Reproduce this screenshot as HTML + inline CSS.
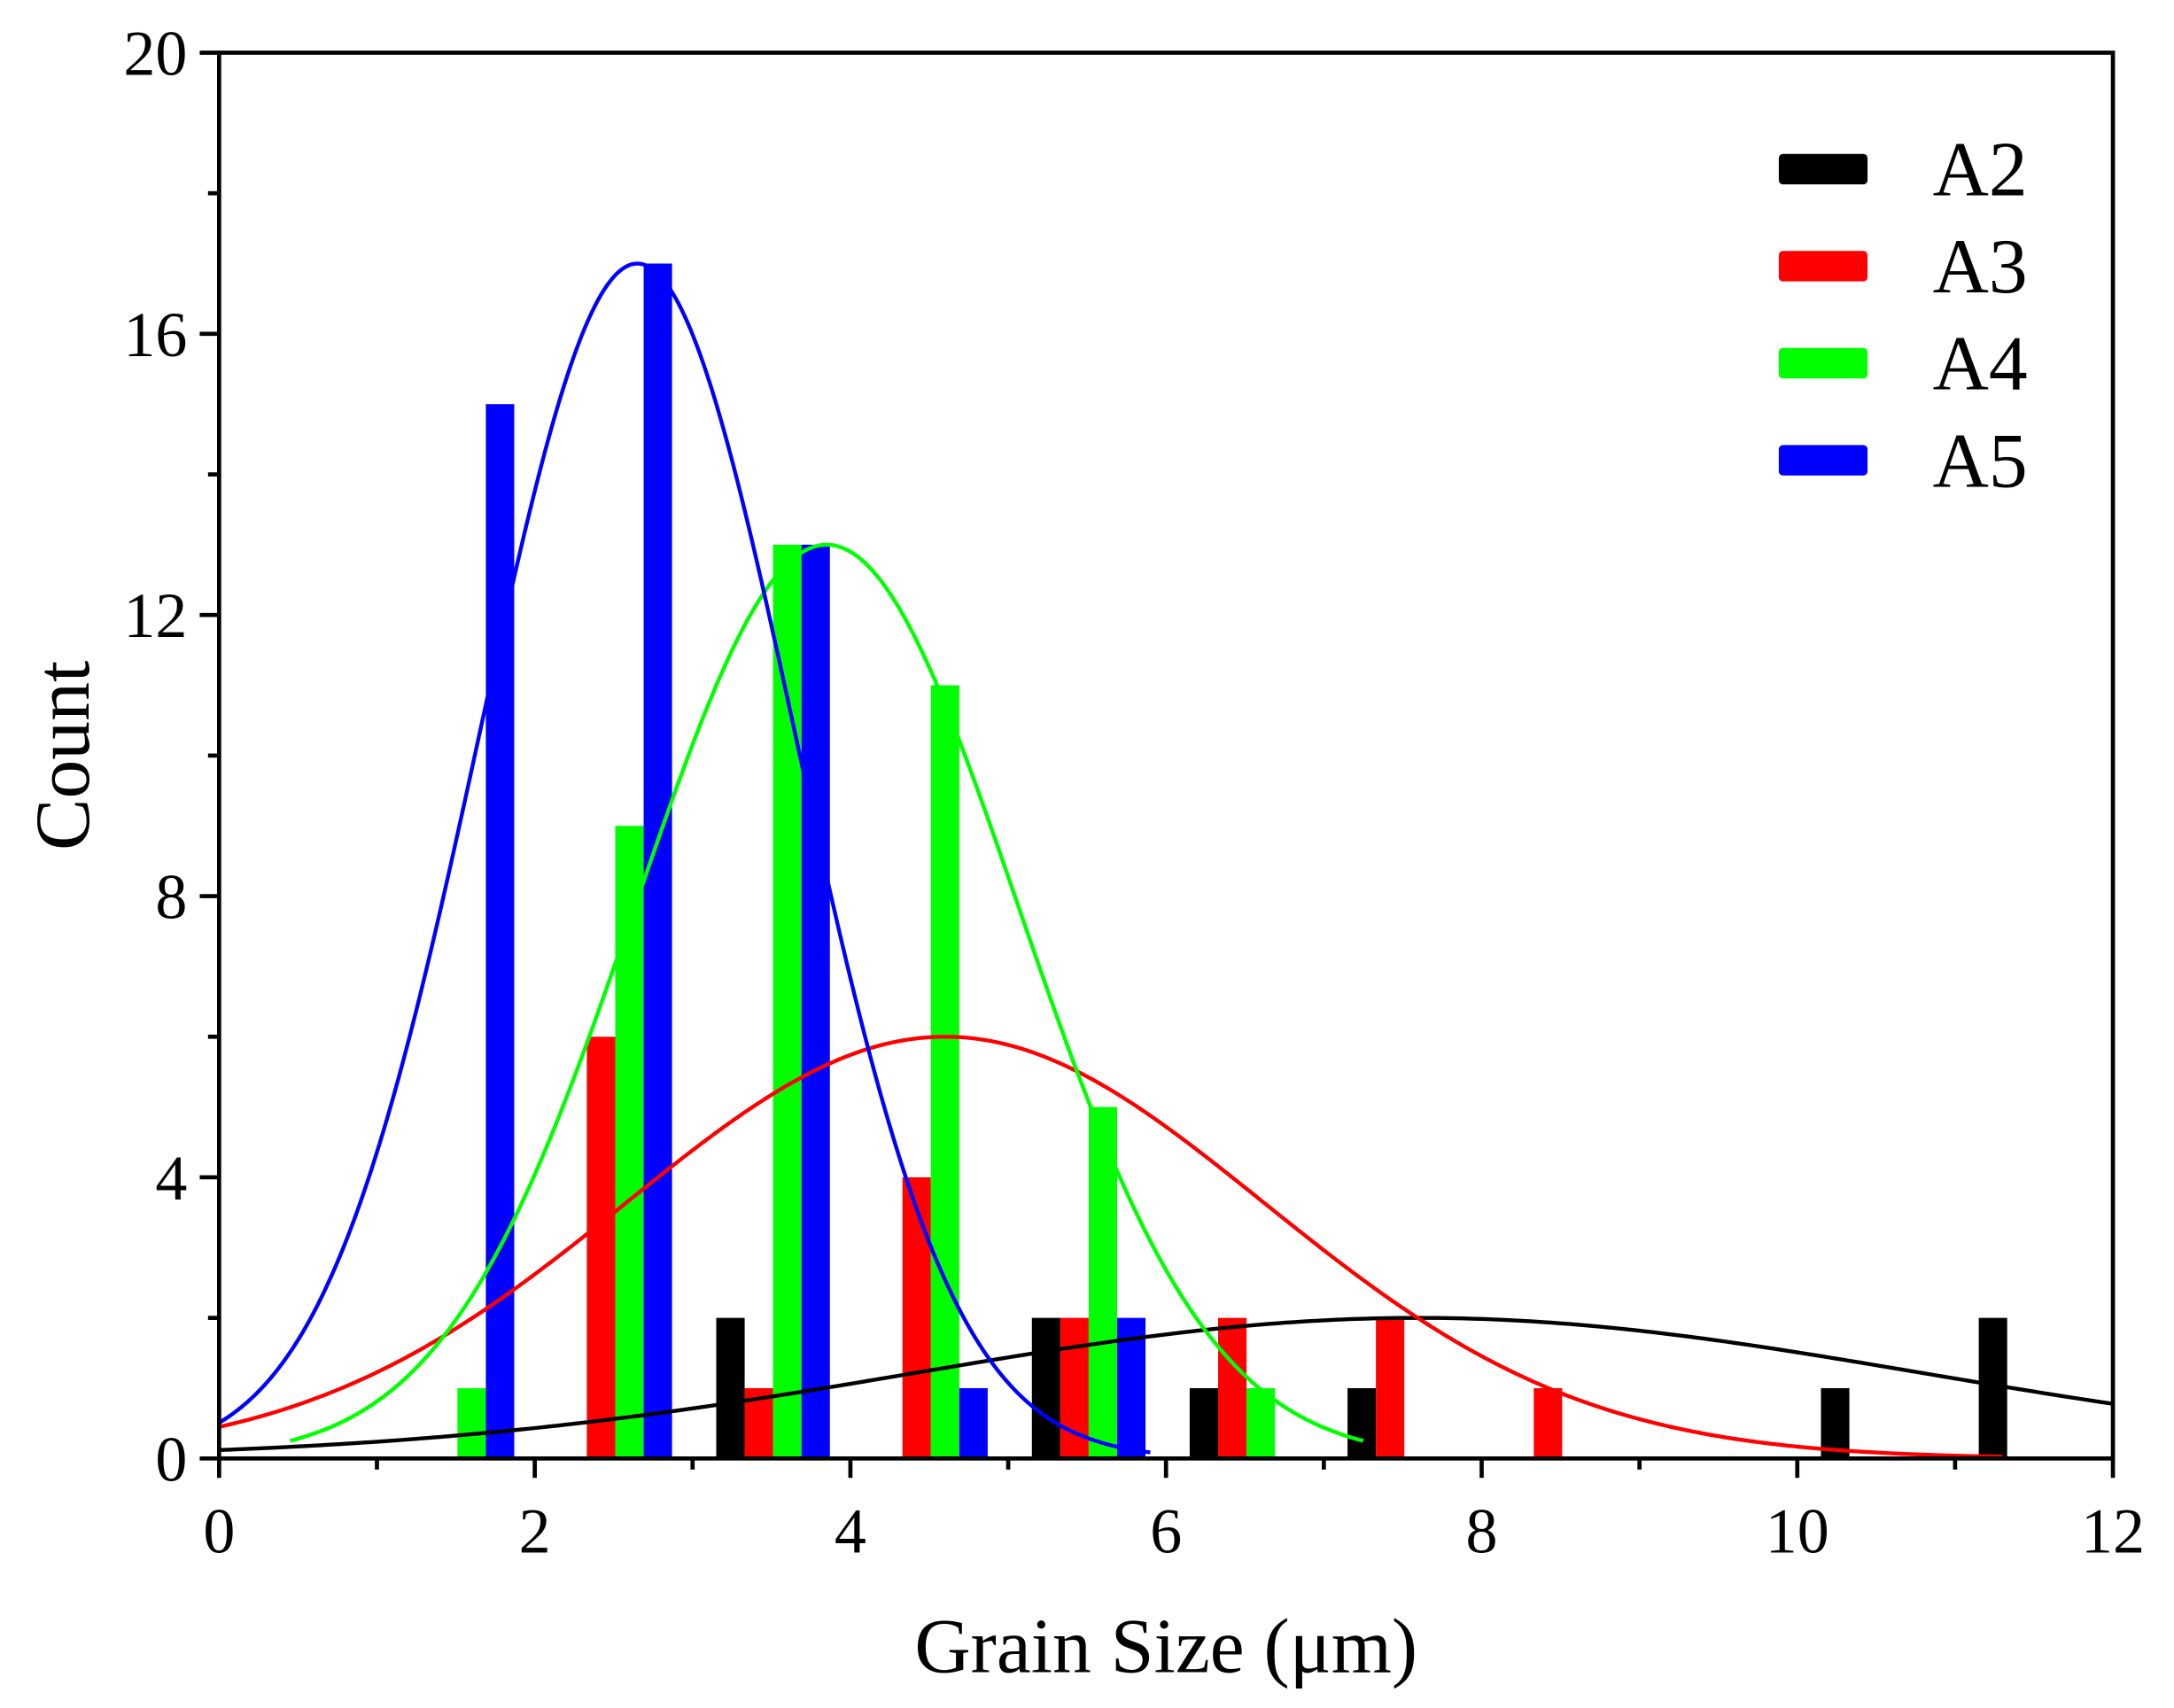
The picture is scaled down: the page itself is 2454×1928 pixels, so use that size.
<!DOCTYPE html>
<html><head><meta charset="utf-8"><style>
html,body{margin:0;padding:0;background:#fff;}
svg{display:block;}
text{font-family:"Liberation Serif",serif;fill:#000;}
</style></head><body>
<svg id="chart" width="2454" height="1928" viewBox="0 0 1568 1232" xmlns="http://www.w3.org/2000/svg">
<g id="bars"></g>
<g id="curves"></g>
<g id="axes"></g>
<g id="legend"></g>
<text x="841" y="1206" font-size="56" text-anchor="middle">Grain Size (μm)</text>
<text transform="translate(64,545) rotate(-90)" font-size="56" text-anchor="middle">Count</text>
</svg>
<script>
const series = ["A2","A3","A4","A5"];
const colors = ["#000000","#ff0000","#00ff00","#0000ff"];
const binCenters = [1,2,3,4,5,6,7,8,9,10,11];
const countsA2 = [0,0,2,0,2,1,1,0,0,1,2];
const countsA3 = [0,6,1,4,2,2,2,1,0,0,0];
const countsA4 = [1,9,13,11,5,1,0,0,0,0,0];
const countsA5 = [15,17,13,1,2,0,0,0,0,0,0];
const fitPeak = [2,6,13,17];
const fitMean = [7.6,4.6,3.85,2.65];
const fitSigma = [3.2,2.02,1.21,1.0];
const fitStart = [0,0,0.45,0];
const fitEnd = [12,11.3,7.25,5.9];
const xTicks = [0,2,4,6,8,10,12];
const yTicks = [0,4,8,12,16,20];

const NS="http://www.w3.org/2000/svg";
const X0=158,X1=1524,Y0=1052,Y1=38,XMAX=12,YMAX=20;
function xs(v){return X0+(X1-X0)*v/XMAX;}
function ys(v){return Y0-(Y0-Y1)*v/YMAX;}
function mk(tag,attrs,parent){const e=document.createElementNS(NS,tag);for(const k in attrs)e.setAttribute(k,attrs[k]);parent.appendChild(e);return e;}
const allCounts=[countsA2,countsA3,countsA4,countsA5];
const bw=0.18;
const barsG=document.getElementById('bars');
allCounts.forEach((arr,si)=>{
  arr.forEach((c,i)=>{
    if(!c) return;
    const left=binCenters[i]+0.15+si*bw;
    const r=mk('rect',{x:xs(left),y:ys(c),width:xs(left+bw)-xs(left),height:ys(0)-ys(c),fill:colors[si]},barsG);
    
    
  });
});
const curvesG=document.getElementById('curves');
series.forEach((s,si)=>{
  let d='';
  for(let k=0;k<=300;k++){
    const x=fitStart[si]+(fitEnd[si]-fitStart[si])*k/300;
    const y=fitPeak[si]*Math.exp(-Math.pow(x-fitMean[si],2)/(2*fitSigma[si]*fitSigma[si]));
    d+=(k?'L':'M')+xs(x).toFixed(2)+','+ys(y).toFixed(2);
  }
  const p=mk('path',{d:d,fill:'none',stroke:colors[si],'stroke-width':2.8},curvesG);
  
  
});
const ax=document.getElementById('axes');
const frame=mk('rect',{x:X0,y:Y1,width:X1-X0,height:Y0-Y1,fill:'none',stroke:'#000','stroke-width':3},ax);


for(let v=0;v<=XMAX;v++){
  const major=v%2===0;
  mk('line',{x1:xs(v),x2:xs(v),y1:Y0,y2:Y0+(major?14:8),stroke:'#000','stroke-width':3},ax);
}
xTicks.forEach(v=>{
  const t=mk('text',{x:xs(v),y:1120,'font-size':46,'text-anchor':'middle'},ax);
  t.textContent=v;
  
  
});
for(let v=0;v<=YMAX;v+=2){
  const major=v%4===0;
  mk('line',{x1:X0,x2:X0-(major?14:8),y1:ys(v),y2:ys(v),stroke:'#000','stroke-width':3},ax);
}
yTicks.forEach(v=>{
  const t=mk('text',{x:135,y:ys(v)+16,'font-size':46,'text-anchor':'end'},ax);
  t.textContent=v;
  
  
});
const lg=document.getElementById('legend');
series.forEach((s,si)=>{
  const cy=122+si*70;
  const g=mk('g',{},lg);
  
  
  mk('rect',{x:1283,y:cy-11,width:64,height:22,rx:3,fill:colors[si]},g);
  const t=mk('text',{x:1394,y:cy+19,'font-size':56},g);
  t.textContent=s;
});
</script>
</body></html>
